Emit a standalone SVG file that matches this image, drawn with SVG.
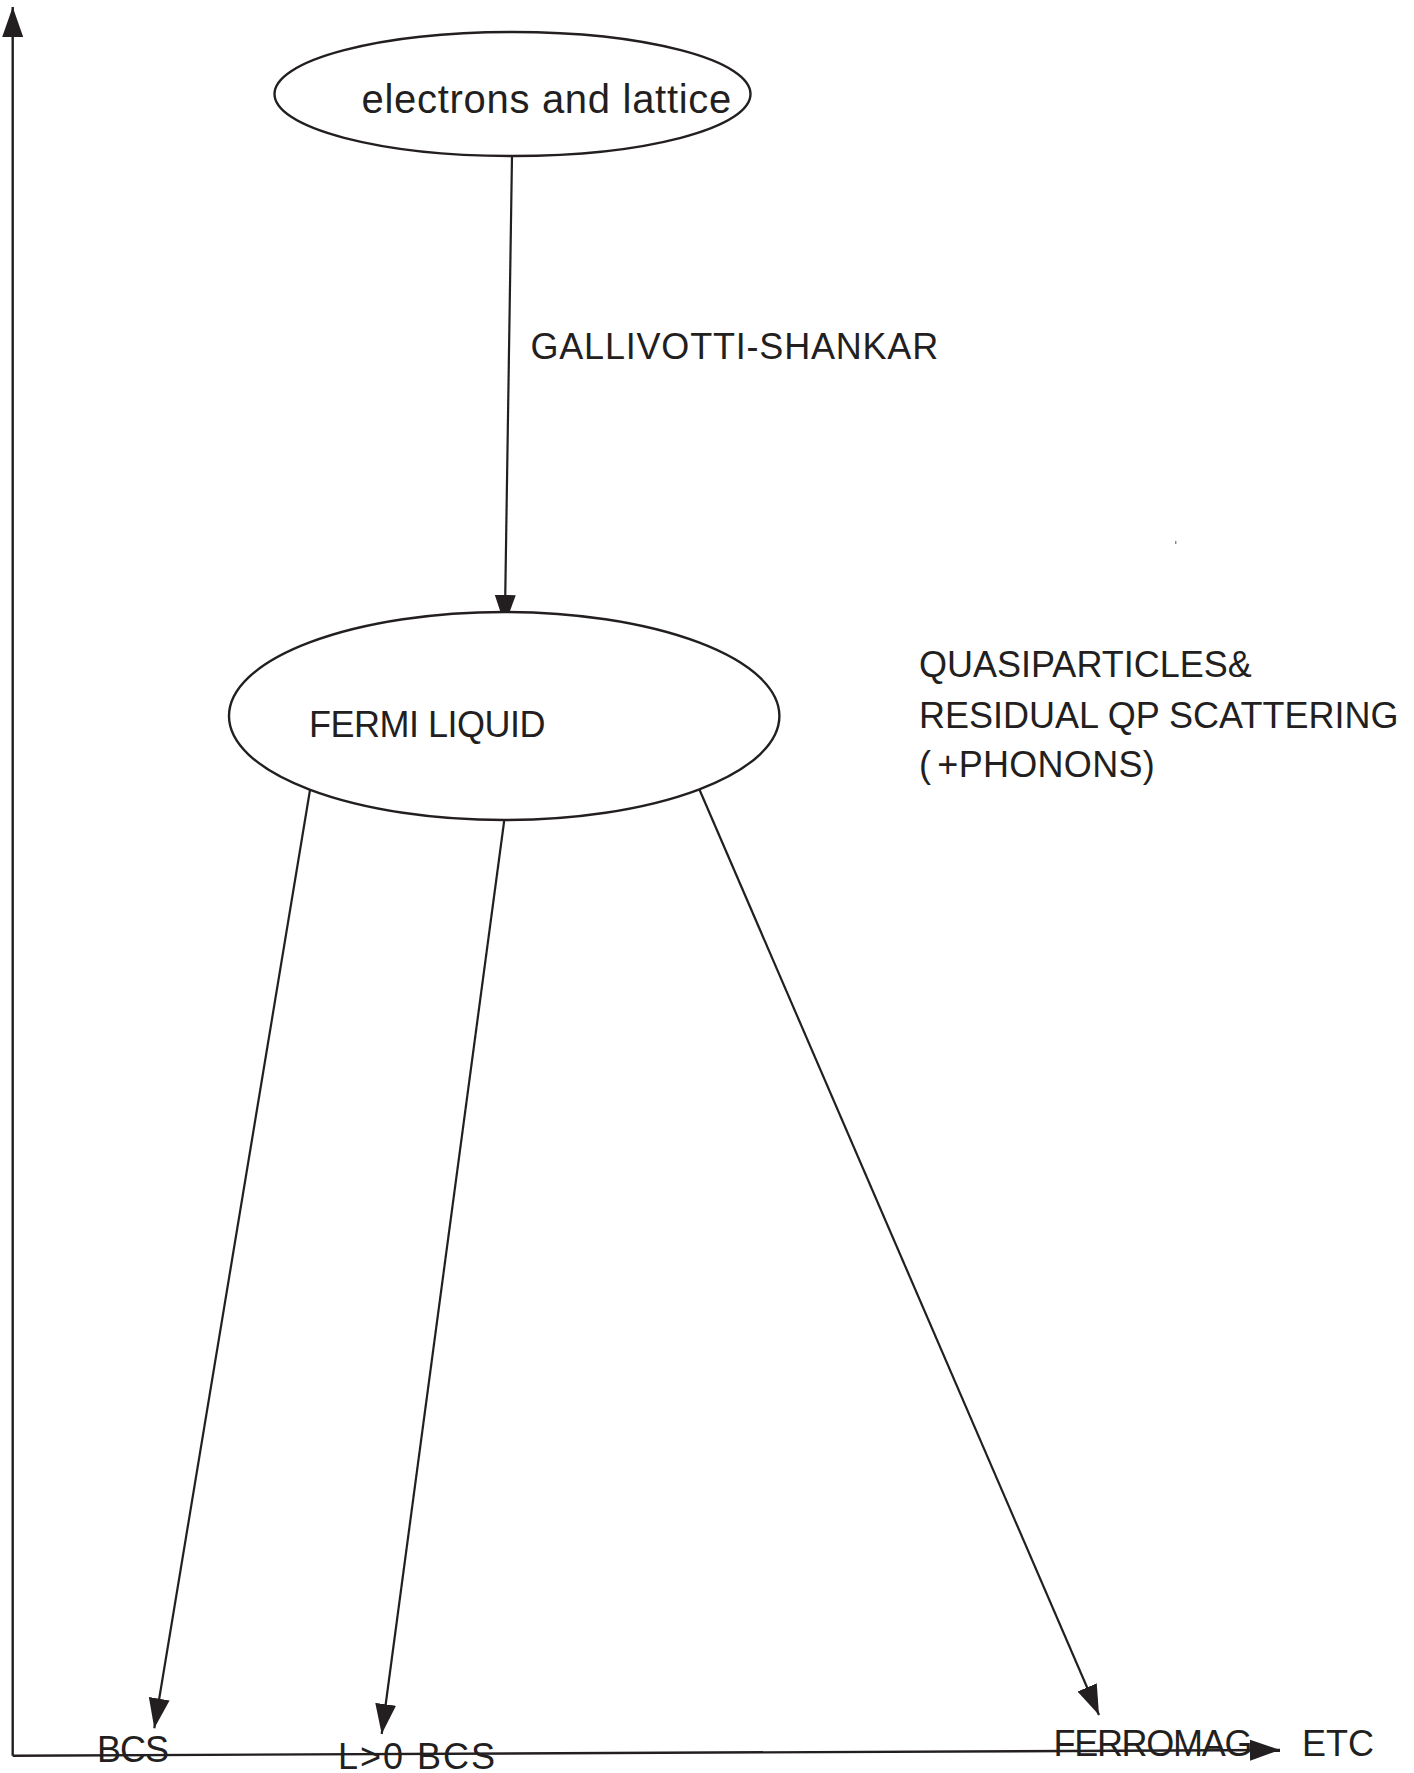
<svg xmlns="http://www.w3.org/2000/svg" width="1414" height="1773" viewBox="0 0 1414 1773">
<style>
  .ln { stroke:#231f20; stroke-width:2.2; fill:none; }
  .ax { stroke:#231f20; stroke-width:2.4; fill:none; }
  .node { stroke:#231f20; stroke-width:2.4; fill:#ffffff; }
  .t { font-family:"Liberation Sans", Arial, sans-serif; font-size:36px; fill:#231f20; }
</style>
<defs>
  <marker id="ah" markerUnits="userSpaceOnUse" markerWidth="32" markerHeight="24" refX="30" refY="11" orient="auto" viewBox="0 0 32 24">
    <path d="M0,0.5 L30,11 L0,21.5 z" fill="#231f20"/>
  </marker>
</defs>
<rect width="1414" height="1773" fill="#ffffff"/>
<g id="connectors">
  <line id="axis-y" class="ax" x1="12.7" y1="1755.7" x2="12.7" y2="7" marker-end="url(#ah)"/>
  <line id="axis-x" class="ax" x1="12.7" y1="1755.7" x2="1280" y2="1750" marker-end="url(#ah)"/>
  <line class="ln" x1="512" y1="156" x2="504.8" y2="625" marker-end="url(#ah)"/>
  <line class="ln" x1="310" y1="790" x2="154.3" y2="1728.3" marker-end="url(#ah)"/>
  <line class="ln" x1="504.3" y1="820" x2="381.7" y2="1734" marker-end="url(#ah)"/>
  <line class="ln" x1="699.3" y1="789.3" x2="1099" y2="1715" marker-end="url(#ah)"/>
</g>
<g id="node-electrons">
  <ellipse class="node" cx="512.5" cy="94" rx="238" ry="62"/>
  <text class="t" x="361.5" y="113" style="font-size:40px;letter-spacing:0.7px">electrons and lattice</text>
</g>
<g id="label-gallivotti">
  <text class="t" x="530.5" y="359" style="letter-spacing:0.8px">GALLIVOTTI-SHANKAR</text>
</g>
<g id="node-fermi">
  <ellipse class="node" cx="504.2" cy="716" rx="275.2" ry="104"/>
  <text class="t" x="309" y="737.3" style="letter-spacing:-0.5px">FERMI LIQUID</text>
</g>
<g id="label-quasiparticles">
  <text class="t" x="919" y="676.7" style="letter-spacing:0px">QUASIPARTICLES&amp;</text>
  <text class="t" x="919" y="727.7" style="letter-spacing:0px">RESIDUAL QP SCATTERING</text>
  <text class="t" x="919" y="776.7" style="letter-spacing:0.3px">(<tspan dx="6">+</tspan>PHONONS)</text>
</g>
<g id="node-bcs">
  <text class="t" x="97" y="1761.7" style="letter-spacing:-1px">BCS</text>
</g>
<g id="node-l0bcs">
  <text class="t" x="338" y="1768.5" style="letter-spacing:2px">L&gt;0 BCS</text>
</g>
<g id="node-ferromag">
  <text class="t" x="1053.5" y="1756" style="letter-spacing:-1.3px">FERROMAG</text>
</g>
<g id="node-etc">
  <text class="t" x="1302" y="1756">ETC</text>
</g>
<rect x="1175.3" y="541" width="1" height="3" fill="#555555"/>
</svg>
